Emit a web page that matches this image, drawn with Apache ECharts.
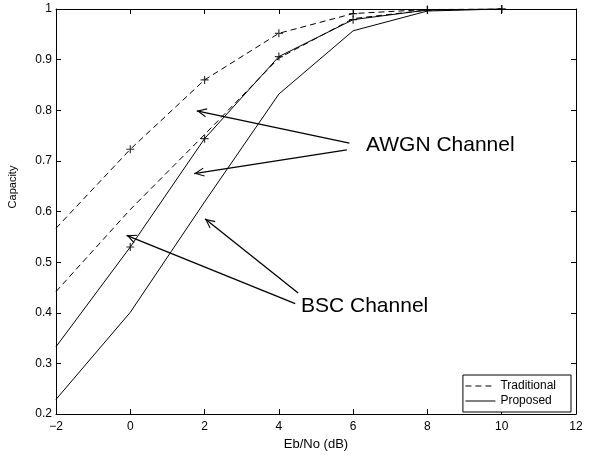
<!DOCTYPE html>
<html>
<head>
<meta charset="utf-8">
<script src="https://cdn.jsdelivr.net/npm/echarts@6/dist/echarts.min.js"></script>
<style>
  html, body { margin: 0; padding: 0; background: #fff; }
  #chart { width: 602px; height: 456px; }
</style>
</head>
<body>
<div id="chart"></div>
<script>
// Eb/No (dB) sample points
var ebno = [-2, 0, 2, 4, 6, 8, 10];

// capacity curves
var tradUpper = [0.567, 0.723, 0.860, 0.952, 0.991, 0.999, 1.0];
var tradLower = [0.442, 0.604, 0.752, 0.903, 0.981, 0.998, 1.0];
var propUpper = [0.333, 0.530, 0.744, 0.906, 0.979, 0.998, 1.0];
var propLower = [0.229, 0.401, 0.619, 0.832, 0.957, 0.996, 1.0];

// '+' markers sit on the two upper curves from 0 dB on
var markFrom = 1;

var legendNames = ['Traditional', 'Proposed'];

// annotation arrows, [tail, tip] in data units
var awgnArrows = [
    [[5.90, 0.735], [1.79, 0.799]],
    [[5.83, 0.722], [1.72, 0.675]]
];
var bscArrows = [
    [[4.52, 0.439], [2.01, 0.586]],
    [[4.44, 0.418], [-0.10, 0.553]]
];

var font = 'Liberation Sans, Arial, Helvetica, sans-serif';
var plusIcon = 'path://M-0.15,-1H0.15V-0.15H1V0.15H0.15V1H-0.15V0.15H-1V-0.15H-0.15Z';
var openArrow = 'path://M0,0L4.6,9.6L3.6,10L0,2.4L-3.6,10L-4.6,9.6Z';

function pairs(arr) {
    return ebno.map(function (x, i) { return [x, arr[i]]; });
}

function markerPairs(arr) {
    return pairs(arr).slice(markFrom);
}

function arrowData(list) {
    return list.map(function (a) {
        return [
            { coord: a[0], symbol: 'none' },
            { coord: a[1], symbol: openArrow, symbolSize: [9, 10], symbolOffset: [0, 5] }
        ];
    });
}

function minusSign(v) {
    return String(v).replace('-', '\u2212');
}

// box axis helper: all four sides get inward ticks, like the original plot
function boxAxis(extra) {
    var a = {
        type: 'value',
        axisLine: { show: true, onZero: false, lineStyle: { color: '#000', width: 1 } },
        axisTick: { inside: true, length: 5, lineStyle: { color: '#000' } },
        axisLabel: { show: false },
        splitLine: { show: false }
    };
    for (var k in extra) a[k] = extra[k];
    return a;
}

var chart = echarts.init(document.getElementById('chart'));

var option = {
    animation: false,
    backgroundColor: '#fff',
    textStyle: { fontFamily: font },
    grid: { left: 56, right: 26, top: 9, bottom: 38 },
    legend: {
        data: legendNames,
        orient: 'vertical',
        right: 31,
        bottom: 44,
        itemWidth: 30,
        itemHeight: 14,
        itemGap: 3,
        padding: [5, 15, 5, 2],
        backgroundColor: '#fff',
        borderColor: '#000',
        borderWidth: 1,
        borderRadius: 0,
        itemStyle: { color: 'transparent', borderColor: 'transparent', borderWidth: 0, opacity: 0 },
        lineStyle: { width: 1 },
        textStyle: { fontSize: 12, color: '#000', fontFamily: font },
        selectedMode: false
    },
    xAxis: [
        boxAxis({
            min: -2, max: 12, interval: 2,
            name: 'Eb/No (dB)',
            nameLocation: 'middle',
            nameGap: 22,
            nameTextStyle: { fontSize: 13, color: '#000', fontFamily: font },
            axisLabel: { show: true, fontSize: 12, color: '#000', margin: 7, formatter: minusSign }
        }),
        boxAxis({ position: 'top', min: -2, max: 12, interval: 2 })
    ],
    yAxis: [
        boxAxis({
            min: 0.2, max: 1, interval: 0.1,
            axisLabel: { show: true, fontSize: 12, color: '#000', margin: 4 }
        }),
        boxAxis({ position: 'right', min: 0.2, max: 1, interval: 0.1 })
    ],
    graphic: [{
        type: 'text',
        x: 13,
        y: 187,
        rotation: Math.PI / 2,
        style: { text: 'Capacity', font: '11px ' + font, fill: '#000', align: 'center', verticalAlign: 'middle' }
    }, {
        type: 'text',
        x: 366,
        y: 145,
        style: { text: 'AWGN Channel', font: '21px ' + font, fill: '#000', verticalAlign: 'middle' }
    }, {
        type: 'text',
        x: 301,
        y: 306,
        style: { text: 'BSC Channel', font: '21px ' + font, fill: '#000', verticalAlign: 'middle' }
    }],
    series: [{
        name: 'Traditional',
        type: 'line',
        data: pairs(tradUpper),
        showSymbol: false,
        symbol: 'none',
        lineStyle: { color: '#000', width: 1, type: [6, 4] },
        itemStyle: { color: '#000' },
        markLine: {
            silent: true,
            animation: false,
            label: { show: false },
            lineStyle: { color: '#000', width: 1.3, type: 'solid' },
            data: arrowData(awgnArrows).concat(arrowData(bscArrows))
        }
    }, {
        name: 'Traditional',
        type: 'line',
        data: pairs(tradLower),
        showSymbol: false,
        symbol: 'none',
        lineStyle: { color: '#000', width: 1, type: [6, 4] },
        itemStyle: { color: '#000' }
    }, {
        name: 'Proposed',
        type: 'line',
        data: pairs(propUpper),
        showSymbol: false,
        symbol: 'none',
        lineStyle: { color: '#000', width: 1 },
        itemStyle: { color: '#000' }
    }, {
        name: 'Proposed',
        type: 'line',
        data: pairs(propLower),
        showSymbol: false,
        symbol: 'none',
        lineStyle: { color: '#000', width: 1 },
        itemStyle: { color: '#000' }
    }, {
        name: 'marks',
        type: 'scatter',
        data: markerPairs(tradUpper).concat(markerPairs(propUpper)),
        symbol: plusIcon,
        symbolSize: 8,
        itemStyle: { color: '#000' },
        silent: true,
        z: 3
    }]
};

chart.setOption(option);
</script>
</body>
</html>
